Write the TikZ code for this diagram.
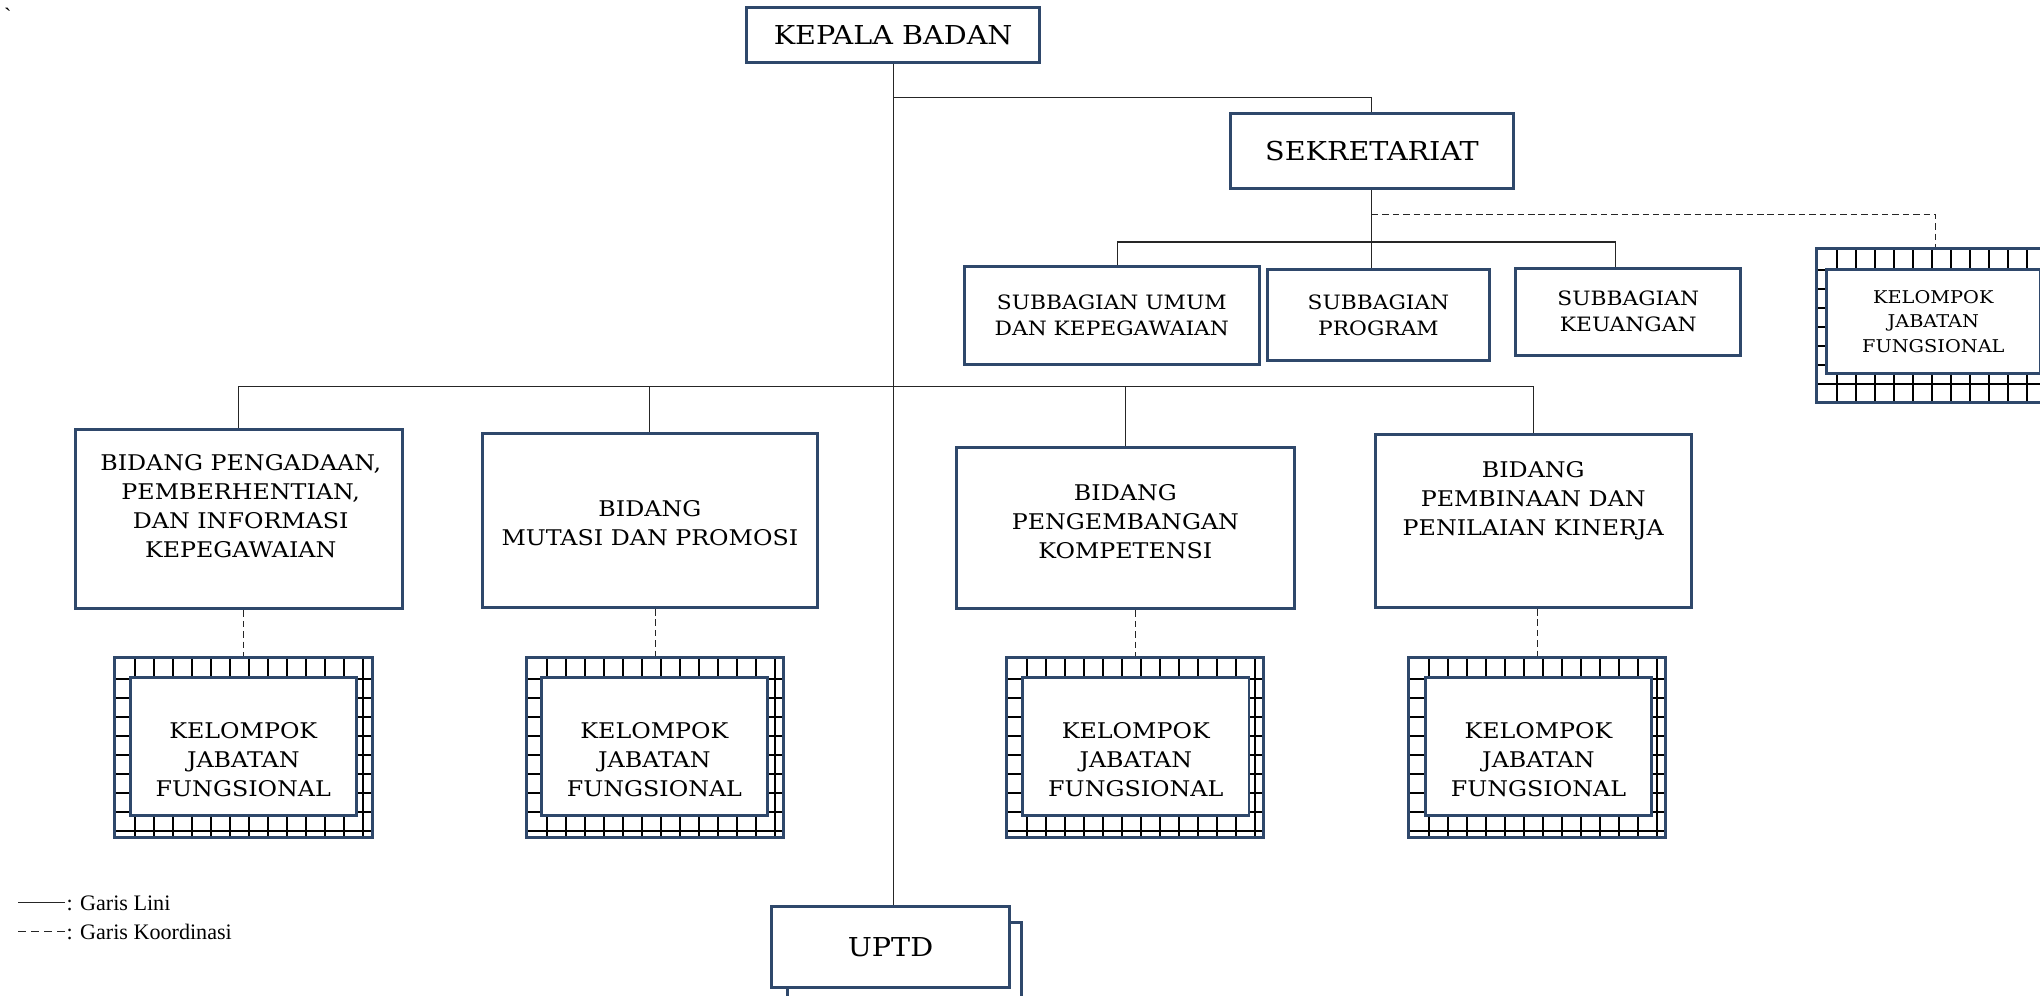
\documentclass[tikz,border=0pt]{standalone}
\usepackage{fontspec}
\setmainfont{DejaVu Serif}[FakeStretch=1.1]
\newfontfamily\legendfont{Liberation Serif}
\definecolor{boxblue}{RGB}{47,72,107}

\begin{document}
\begin{tikzpicture}[x=1pt, y=-1pt,
  box/.style={draw=boxblue, line width=2.3pt, fill=white, align=center, inner sep=0pt},
  bigbox/.style={box, font=\fontsize{20}{24}\selectfont},
  subbox/.style={box, font=\fontsize{15.2}{20}\selectfont},
  boxtext/.style={align=center, inner sep=0pt, font=\fontsize{16.6}{22.5}\selectfont},
  gridline/.style={black, line width=1.5pt},
  gridfill/.style={path picture={
    \foreach \g in {0,...,14}{
      \draw[gridline] ([xshift=16pt+\g*14.6pt]path picture bounding box.north west) -- ([xshift=16pt+\g*14.6pt]path picture bounding box.south west);
      \draw[gridline] ([yshift=-16.7pt-\g*14.6pt]path picture bounding box.north west) -- ([yshift=-16.7pt-\g*14.6pt]path picture bounding box.north east);
    }}},
  kjfouter/.style={box, gridfill, minimum width=198pt, minimum height=139pt},
  kjfinner/.style={box, minimum width=174pt, minimum height=106pt},
  lini/.style={black!85, line width=0.8pt},
  koord/.style={lini, dash pattern=on 5pt off 3pt},
  legtext/.style={font=\legendfont\fontsize{17}{20}\selectfont, anchor=west, inner sep=1pt}]

  \useasboundingbox (0,0) rectangle (1568,765);
  \node[legtext] (tick) at (2,12) {\textasciigrave};

  % pimpinan
  \node[bigbox, minimum width=225pt, minimum height=42pt] (kb) at (686.5,27) {KEPALA BADAN};
  \node[bigbox, minimum width=217pt, minimum height=58pt] (sek) at (1054.5,116) {SEKRETARIAT};

  % subbagian
  \node[subbox, minimum width=227pt, minimum height=75pt] (su) at (854.5,242.5) {SUBBAGIAN UMUM\\DAN KEPEGAWAIAN};
  \node[subbox, minimum width=171pt, minimum height=70pt] (sp) at (1059.5,242) {SUBBAGIAN\\PROGRAM};
  \node[subbox, minimum width=173pt, minimum height=67pt] (sk) at (1251.5,239.5) {SUBBAGIAN\\KEUANGAN};

  % kelompok jabatan fungsional sekretariat
  \node[box, gridfill, minimum width=184pt, minimum height=118pt] (k5o) at (1488,250) {};
  \node[box, minimum width=164pt, minimum height=80pt, font=\fontsize{13.5}{19}\selectfont] (k5) at (1486,247) {KELOMPOK\\JABATAN\\FUNGSIONAL};

  % bidang
  \node[box, minimum width=251pt, minimum height=138pt] (b1) at (183.5,399) {};
  \node[boxtext] (b1text) at (185,389) {BIDANG PENGADAAN,\\PEMBERHENTIAN,\\DAN INFORMASI\\KEPEGAWAIAN};
  \node[box, minimum width=257pt, minimum height=134pt] (b2) at (499.5,400) {};
  \node[boxtext] (b2text) at (499.5,402) {BIDANG\\MUTASI DAN PROMOSI};
  \node[box, minimum width=260pt, minimum height=124pt] (b3) at (865,406) {};
  \node[boxtext] (b3text) at (865,401) {BIDANG\\PENGEMBANGAN\\KOMPETENSI};
  \node[box, minimum width=243pt, minimum height=133pt] (b4) at (1178.5,400.5) {};
  \node[boxtext] (b4text) at (1178.5,385) {BIDANG\\PEMBINAAN DAN\\PENILAIAN KINERJA};

  % kelompok jabatan fungsional bidang
  \node[kjfouter] (k1o) at (187,574.5) {};
  \node[kjfinner] (k1) at (187,574) {};
  \node[boxtext] (k1text) at (187,584) {KELOMPOK\\JABATAN\\FUNGSIONAL};
  \node[kjfouter] (k2o) at (503.5,574.5) {};
  \node[kjfinner] (k2) at (503,574) {};
  \node[boxtext] (k2text) at (503,584) {KELOMPOK\\JABATAN\\FUNGSIONAL};
  \node[kjfouter] (k3o) at (872.5,574.5) {};
  \node[kjfinner] (k3) at (873,574) {};
  \node[boxtext] (k3text) at (873,584) {KELOMPOK\\JABATAN\\FUNGSIONAL};
  \node[kjfouter] (k4o) at (1181.5,574.5) {};
  \node[kjfinner] (k4) at (1182.5,574) {};
  \node[boxtext] (k4text) at (1182.5,584) {KELOMPOK\\JABATAN\\FUNGSIONAL};

  % uptd
  \node[box, minimum width=180pt, minimum height=62pt] (uptdback) at (695,740) {};
  \node[bigbox, minimum width=183pt, minimum height=62pt] (uptd) at (684.5,728) {UPTD};

  % garis lini
  \coordinate (kbsek) at (686.5,75);
  \coordinate (subbar) at (1054.5,186);
  \coordinate (bidbar) at (686.5,297);
  \draw[lini] (kb.south) -- (kb.south |- uptd.north);
  \draw[lini] (kbsek) -| (sek.north);
  \draw[lini] (sek.south) -- (sek.south |- sp.north);
  \draw[lini] ([xshift=4.5pt]su.north) |- (subbar) -| ([xshift=-9.5pt]sk.north);
  \draw[lini] (b1.north) |- (bidbar) -| (b4.north);
  \draw[lini] (b2.north) -- (b2.north |- bidbar);
  \draw[lini] (b3.north) -- (b3.north |- bidbar);

  % garis koordinasi
  \coordinate (sekdash) at (1054.5,165);
  \draw[koord] (sekdash) -| (k5o.north);
  \draw[koord] (k1o.north |- b1.south) -- (k1o.north);
  \draw[koord] (k2o.north |- b2.south) -- (k2o.north);
  \draw[koord] (k3o.north |- b3.south) -- (k3o.north);
  \draw[koord] (k4o.north |- b4.south) -- (k4o.north);

  % keterangan
  \node[legtext] (leg1) at (50,694) {: Garis Lini};
  \node[legtext] (leg2) at (50,716) {: Garis Koordinasi};
  \coordinate (leg1s) at (14,694);
  \coordinate (leg2s) at (14,716);
  \draw[lini] (leg1s) -- (leg1.west);
  \draw[lini, dash pattern=on 6pt off 4pt] (leg2s) -- (leg2.west);

\end{tikzpicture}
\end{document}
